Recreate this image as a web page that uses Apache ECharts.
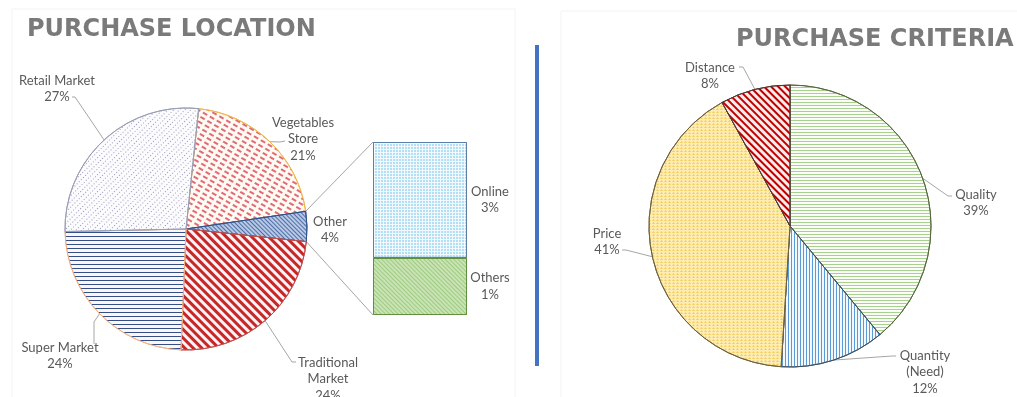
<!DOCTYPE html>
<html><head><meta charset="utf-8">
<script src="https://cdn.jsdelivr.net/npm/echarts@6/dist/echarts.min.js"></script>
<style>html,body{margin:0;padding:0;background:#fff}#c{width:1017px;height:397px}</style>
</head><body><div id="c"></div>
<script>
// ---------- data ----------
const titles = ['PURCHASE LOCATION', 'PURCHASE CRITERIA'];
const locationNames = ['Vegetables Store', 'Other', 'Traditional Market', 'Super Market', 'Retail Market'];
const locationLabels = ['Vegetables\nStore', 'Other', 'Traditional\nMarket', 'Super Market', 'Retail Market'];
const locationValues = [21, 4, 24, 24, 27];
const otherCategory = ['Other'];
const otherNames = ['Others', 'Online'];      // bottom to top of the stacked bar
const otherValues = [1.32, 2.68];
const criteriaNames = ['Quality', 'Quantity (Need)', 'Price', 'Distance'];
const criteriaLabels = ['Quality', 'Quantity\n(Need)', 'Price', 'Distance'];
const criteriaValues = [39, 12, 41, 8];

// ---------- layout / style ----------
const L = {cx: 186, cy: 229, r: 121, start: 84};
const R = {cx: 790, cy: 226, r: 141, start: 90};
const G = {left: 373, top: 142, width: 94, height: 173};
const FONT = 'Lato';
const FS = 13;
const TXT = '#595959';
const LINE = '#a6a6a6';
const ROT = Math.PI / 4;

const locSpots = [
  {x: 303, y: 139, line: [[280, 142], [285, 141]]},
  {x: 330, y: 230, line: null},
  {x: 328, y: 379, line: [[292, 362], [296, 362]]},
  {x: 60, y: 356, line: [[94, 322], [94, 344]]},
  {x: 57, y: 89, line: [[75, 97], [72, 97]]}
];
const critSpots = [
  {x: 976, y: 203, line: [[948, 196], [952, 196]]},
  {x: 925, y: 372, line: [[892, 356], [896, 356]]},
  {x: 607, y: 242, line: [[626, 250], [622, 250]]},
  {x: 710, y: 76, line: [[743, 67], [739, 67]]}
];

const locStyles = [
  {color: '#fffaf4', borderColor: '#f2b84b', decal: {symbol: 'rect', symbolSize: 1, symbolKeepAspect: false, color: '#e06b74', dashArrayX: [5, 3], dashArrayY: [2, 3]}},
  {color: '#b8c9e6', borderColor: '#2f528f', decal: {symbol: 'rect', symbolSize: 1, color: '#4f6ea5', dashArrayX: [1, 0], dashArrayY: [1, 2], rotation: ROT}},
  {color: '#fdf3f6', borderColor: '#c0504d', decal: {symbol: 'rect', symbolSize: 1, color: '#c62828', dashArrayX: [1, 0], dashArrayY: [3, 3], rotation: ROT}},
  {color: '#fdf6f0', borderColor: '#f4b183', decal: {symbol: 'rect', symbolSize: 1, color: '#34508a', dashArrayX: [1, 0], dashArrayY: [1, 3]}},
  {color: '#fcfcfe', borderColor: '#9aa0b5', decal: {symbol: 'rect', symbolSize: 1, color: '#9a98b8', dashArrayX: [1, 3], dashArrayY: [1, 2]}}
];
const critStyles = [
  {color: '#fbfdf8', borderColor: '#56683a', decal: {symbol: 'rect', symbolSize: 1, color: '#a9d18e', dashArrayX: [1, 0], dashArrayY: [1, 2]}},
  {color: '#f2f8fd', borderColor: '#3f4f5f', decal: {symbol: 'rect', symbolSize: 1, color: '#5b9bd5', dashArrayX: [1, 0], dashArrayY: [1, 2], rotation: Math.PI / 2}},
  {color: '#fdedb4', borderColor: '#6b6040', decal: {symbol: 'triangle', symbolSize: 1, symbolKeepAspect: false, color: '#f5cc55', dashArrayX: [3, 1], dashArrayY: [2, 1]}},
  {color: '#fbecec', borderColor: '#4d3a3a', decal: {symbol: 'rect', symbolSize: 1, color: '#c00000', dashArrayX: [1, 0], dashArrayY: [2, 3], rotation: ROT}}
];
const barStyles = [
  {color: '#c9e4b4', borderColor: '#5f8f3f', decal: {symbol: 'rect', symbolSize: 1, color: '#9fca82', dashArrayX: [1, 0], dashArrayY: [1, 2], rotation: ROT}},
  {color: '#f2f9fd', borderColor: '#5b7fa6', decal: {symbol: 'rect', symbolSize: 1, color: '#b4def3', dashArrayX: [2, 1], dashArrayY: [2, 1]}}
];

function edgePoint(P, values, i, frac) {
  const total = values.reduce((a, b) => a + b, 0);
  let cum = 0;
  for (let k = 0; k < i; k++) cum += values[k];
  const clock = (90 - P.start) + (cum + values[i] * frac) / total * 360;
  const a = clock * Math.PI / 180;
  return [P.cx + P.r * Math.sin(a), P.cy - P.r * Math.cos(a)];
}

function layoutFor(P, values, spots) {
  return function (params) {
    const s = spots[params.dataIndex];
    const out = {x: s.x, y: s.y, align: 'center', verticalAlign: 'middle'};
    if (s.line) out.labelLinePoints = [edgePoint(P, values, params.dataIndex, 0.5)].concat(s.line);
    return out;
  };
}

const labelBase = {show: true, position: 'outside', fontFamily: FONT, fontSize: FS, lineHeight: 16.5, color: TXT};

const chart = echarts.init(document.getElementById('c'), null, {renderer: 'canvas'});

const connTop = edgePoint(L, locationValues, 1, 0);
const connBot = edgePoint(L, locationValues, 1, 1);

chart.setOption({
  animation: false,
  backgroundColor: '#ffffff',
  aria: {enabled: true, decal: {show: true}},
  title: [
    {text: titles[0], left: 22, top: 13, textStyle: {fontFamily: 'DejaVu Sans', fontWeight: 'bold', fontSize: 24, color: '#7a7a7a'}},
    {text: titles[1], left: 731, top: 23, textStyle: {fontFamily: 'DejaVu Sans', fontWeight: 'bold', fontSize: 24, color: '#7a7a7a'}}
  ],
  grid: {left: G.left, top: G.top, width: G.width, height: G.height},
  xAxis: {type: 'category', data: otherCategory, show: false},
  yAxis: {type: 'value', min: 0, max: otherValues.reduce((a, b) => a + b, 0), show: false},
  graphic: [
    {type: 'rect', shape: {x: 12, y: 9, width: 503, height: 400}, style: {fill: 'none', stroke: '#f3f3f3', lineWidth: 1}, silent: true},
    {type: 'rect', shape: {x: 561, y: 11, width: 470, height: 400}, style: {fill: 'none', stroke: '#f3f3f3', lineWidth: 1}, silent: true},
    {type: 'line', shape: {x1: 537, y1: 45, x2: 537, y2: 366}, style: {stroke: '#4472c4', lineWidth: 4}, silent: true},
    {type: 'line', shape: {x1: connTop[0], y1: connTop[1], x2: G.left, y2: G.top}, style: {stroke: LINE, lineWidth: 1}, silent: true},
    {type: 'line', shape: {x1: connBot[0], y1: connBot[1], x2: G.left, y2: G.top + G.height}, style: {stroke: LINE, lineWidth: 1}, silent: true}
  ],
  series: [
    {
      type: 'pie', center: [L.cx, L.cy], radius: L.r, startAngle: L.start, clockwise: true,
      avoidLabelOverlap: false,
      label: Object.assign({}, labelBase, {formatter: p => locationLabels[p.dataIndex] + '\n' + Math.round(p.percent) + '%'}),
      labelLine: {show: true, lineStyle: {color: LINE, width: 1}},
      labelLayout: layoutFor(L, locationValues, locSpots),
      emphasis: {disabled: true},
      data: locationNames.map((n, i) => ({
        name: n, value: locationValues[i],
        itemStyle: Object.assign({borderWidth: 1}, locStyles[i]),
        labelLine: {show: !!locSpots[i].line}
      }))
    },
    {
      type: 'pie', center: [R.cx, R.cy], radius: R.r, startAngle: R.start, clockwise: true,
      avoidLabelOverlap: false,
      label: Object.assign({}, labelBase, {formatter: p => criteriaLabels[p.dataIndex] + '\n' + Math.round(p.percent) + '%'}),
      labelLine: {show: true, lineStyle: {color: LINE, width: 1}},
      labelLayout: layoutFor(R, criteriaValues, critSpots),
      emphasis: {disabled: true},
      data: criteriaNames.map((n, i) => ({
        name: n, value: criteriaValues[i],
        itemStyle: Object.assign({borderWidth: 1}, critStyles[i])
      }))
    }
  ].concat(otherNames.map((n, i) => ({
    type: 'bar', name: n, stack: 'other', barWidth: '100%',
    data: [otherValues[i]],
    itemStyle: Object.assign({borderWidth: 1}, barStyles[i]),
    emphasis: {disabled: true},
    label: {show: true, position: 'right', distance: 23, align: 'center', fontFamily: FONT, fontSize: FS, lineHeight: 16.5, color: TXT,
      formatter: p => n + '\n' + Math.round(p.value) + '%'}
  })))
});
</script>
</body></html>
